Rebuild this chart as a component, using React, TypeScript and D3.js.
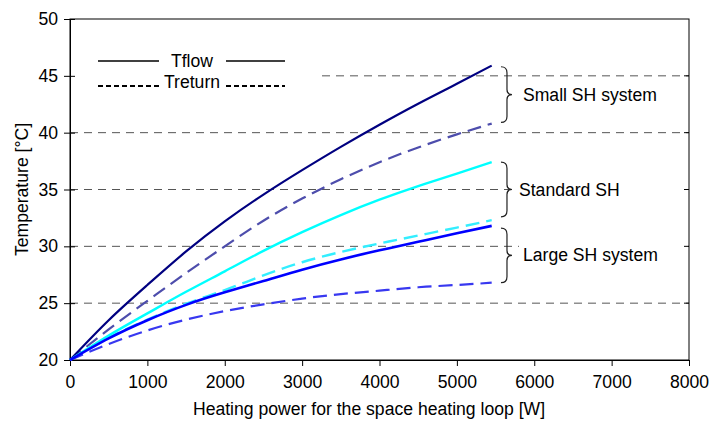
import React, { useEffect, useRef } from "react";
import * as d3 from "d3";

// heating power [W]
const power = [0, 500, 1000, 1500, 2000, 2500, 3000, 3500, 4000, 4500, 5000, 5450];

// temperatures [°C]
const smallFlow = [20, 23.5, 26.6, 29.55, 32.2, 34.55, 36.7, 38.75, 40.7, 42.55, 44.3, 45.9];
const smallReturn = [20, 22.7, 25.2, 27.65, 30.0, 32.25, 34.2, 35.9, 37.4, 38.7, 39.85, 40.8];
const stdFlow = [20, 22.15, 24.1, 26.0, 27.8, 29.6, 31.25, 32.75, 34.1, 35.3, 36.4, 37.4];
const stdReturn = [20, 21.95, 23.55, 24.95, 26.15, 27.45, 28.6, 29.5, 30.25, 30.95, 31.65, 32.3];
const largeFlow = [20, 21.9, 23.5, 24.85, 25.95, 26.95, 27.95, 28.85, 29.65, 30.4, 31.15, 31.8];
const largeReturn = [20, 21.4, 22.6, 23.55, 24.3, 24.9, 25.4, 25.8, 26.1, 26.4, 26.6, 26.8];

const xTicks = [0, 1000, 2000, 3000, 4000, 5000, 6000, 7000, 8000];
const yTicks = [20, 25, 30, 35, 40, 45, 50];

const groupLabels = ["Small SH system", "Standard SH", "Large SH system"];
const groupRanges = [
  [45.8, 40.9],
  [37.4, 32.6],
  [31.6, 26.8],
];

const series = [
  { name: "smallReturn", values: smallReturn, color: "#4d4dac", dashed: true, w: 2.2 },
  { name: "smallFlow", values: smallFlow, color: "#000080", dashed: false, w: 2.2 },
  { name: "stdReturn", values: stdReturn, color: "#33eeff", dashed: true, w: 2.4 },
  { name: "stdFlow", values: stdFlow, color: "#00ffff", dashed: false, w: 2.4 },
  { name: "largeReturn", values: largeReturn, color: "#3838f0", dashed: true, w: 2.2 },
  { name: "largeFlow", values: largeFlow, color: "#0000ff", dashed: false, w: 2.6 },
];

const FONT = "Liberation Sans, Arial, sans-serif";
const FS = "17.6px";

const App: React.FC = () => {
  const ref = useRef<SVGSVGElement | null>(null);

  useEffect(() => {
    if (ref.current) draw();
  }, []);

  const draw = () => {
    const width = 711;
    const height = 426;
    const m = { left: 70, right: 22, top: 19, bottom: 66 };

    const svg = d3.select(ref.current).attr("width", width).attr("height", height);
    svg.selectAll("*").remove();

    const x = d3.scaleLinear().domain([0, 8000]).range([m.left, width - m.right]);
    const y = d3.scaleLinear().domain([20, 50]).range([height - m.bottom, m.top]);

    // gridlines
    svg
      .append("g")
      .selectAll("line")
      .data(yTicks.filter((t) => t > 20 && t < 50))
      .join("line")
      .attr("x1", x(0))
      .attr("x2", x(8000))
      .attr("y1", (d) => y(d))
      .attr("y2", (d) => y(d))
      .attr("stroke", "#555")
      .attr("stroke-width", 1)
      .attr("stroke-dasharray", "8,6");

    // frame
    svg
      .append("rect")
      .attr("x", x(0))
      .attr("y", y(50))
      .attr("width", x(8000) - x(0))
      .attr("height", y(20) - y(50))
      .attr("fill", "none")
      .attr("stroke", "#000")
      .attr("stroke-width", 1);

    // legend box (hides gridline behind)
    svg
      .append("rect")
      .attr("x", x(0) + 1)
      .attr("y", 40)
      .attr("width", 247)
      .attr("height", 58)
      .attr("fill", "#fff");

    const lg = svg.append("g").style("font-family", FONT).style("font-size", FS);
    lg.append("text").attr("x", 192).attr("y", 67).attr("text-anchor", "middle").text("Tflow");
    lg.append("text").attr("x", 192).attr("y", 88).attr("text-anchor", "middle").text("Treturn");
    [[98, 159], [226, 285]].forEach(([a, b]) => {
      lg.append("line").attr("x1", a).attr("x2", b).attr("y1", 61).attr("y2", 61)
        .attr("stroke", "#000").attr("stroke-width", 1.5);
      lg.append("line").attr("x1", a).attr("x2", b).attr("y1", 86).attr("y2", 86)
        .attr("stroke", "#000").attr("stroke-width", 2).attr("stroke-dasharray", "5,3");
    });

    // axes
    const xAxis = svg
      .append("g")
      .attr("transform", `translate(0,${y(20)})`)
      .call(
        d3.axisBottom(x).tickValues(xTicks).tickFormat(d3.format("d")).tickSize(6).tickSizeOuter(0).tickPadding(10)
      );
    const yAxis = svg
      .append("g")
      .attr("transform", `translate(${x(0)},0)`)
      .call(d3.axisLeft(y).tickValues(yTicks).tickSize(6).tickSizeOuter(0).tickPadding(6));
    [xAxis, yAxis].forEach((g) => {
      g.select(".domain").attr("stroke", "#000");
      g.selectAll(".tick line").attr("stroke", "#000");
      g.selectAll(".tick text")
        .attr("fill", "#000")
        .style("font-family", FONT)
        .style("font-size", FS);
    });
    yAxis.selectAll(".tick line").attr("x2", -6).attr("x1", 5);

    // axis titles
    svg
      .append("text")
      .attr("x", 369)
      .attr("y", 415)
      .attr("text-anchor", "middle")
      .style("font-family", FONT)
      .style("font-size", FS)
      .text("Heating power for the space heating loop [W]");
    svg
      .append("text")
      .attr("transform", `translate(28,${(y(20) + y(50)) / 2}) rotate(-90)`)
      .attr("text-anchor", "middle")
      .style("font-family", FONT)
      .style("font-size", FS)
      .text("Temperature [°C]");

    // curves
    const line = d3
      .line<number>()
      .x((_, i) => x(power[i]))
      .y((d) => y(d))
      .curve(d3.curveNatural);

    svg
      .append("g")
      .selectAll("path")
      .data(series)
      .join("path")
      .attr("d", (d) => line(d.values))
      .attr("fill", "none")
      .attr("stroke", (d) => d.color)
      .attr("stroke-width", (d) => d.w)
      .attr("stroke-dasharray", (d) => (d.dashed ? "14,7" : null));

    // braces with labels (label boxes hide the gridlines to the right border)
    const bx = x(5570);
    groupRanges.forEach(([top, bottom], i) => {
      const y0 = y(top);
      const y1 = y(bottom);
      const ym = (y0 + y1) / 2;
      const tx = i === 1 ? bx + 18 : bx + 22;

      svg
        .append("rect")
        .attr("x", tx - 4)
        .attr("y", ym - 11)
        .attr("width", x(8000) - 1 - (tx - 4))
        .attr("height", 22)
        .attr("fill", "#fff");

      const path = d3.path();
      path.moveTo(bx, y0);
      path.quadraticCurveTo(bx + 6, y0, bx + 6, y0 + 6);
      path.lineTo(bx + 6, ym - 5);
      path.quadraticCurveTo(bx + 6, ym, bx + 11, ym);
      path.quadraticCurveTo(bx + 6, ym, bx + 6, ym + 5);
      path.lineTo(bx + 6, y1 - 6);
      path.quadraticCurveTo(bx + 6, y1, bx, y1);
      svg
        .append("path")
        .attr("d", path.toString())
        .attr("fill", "none")
        .attr("stroke", "#222")
        .attr("stroke-width", 1.2);
      svg
        .append("text")
        .attr("x", tx)
        .attr("y", ym + 6)
        .style("font-family", FONT)
        .style("font-size", FS)
        .text(groupLabels[i]);
    });

    // small ticks on the right border
    svg
      .append("g")
      .selectAll("line")
      .data(yTicks.filter((t) => t > 20 && t < 50))
      .join("line")
      .attr("x1", x(8000) - 5)
      .attr("x2", x(8000))
      .attr("y1", (d) => y(d))
      .attr("y2", (d) => y(d))
      .attr("stroke", "#000")
      .attr("stroke-width", 1);
  };

  return (
    <div style={{ position: "absolute", left: 0, top: 0 }}>
      <svg ref={ref} style={{ display: "block", background: "#fff" }}></svg>
    </div>
  );
};

export default App;
